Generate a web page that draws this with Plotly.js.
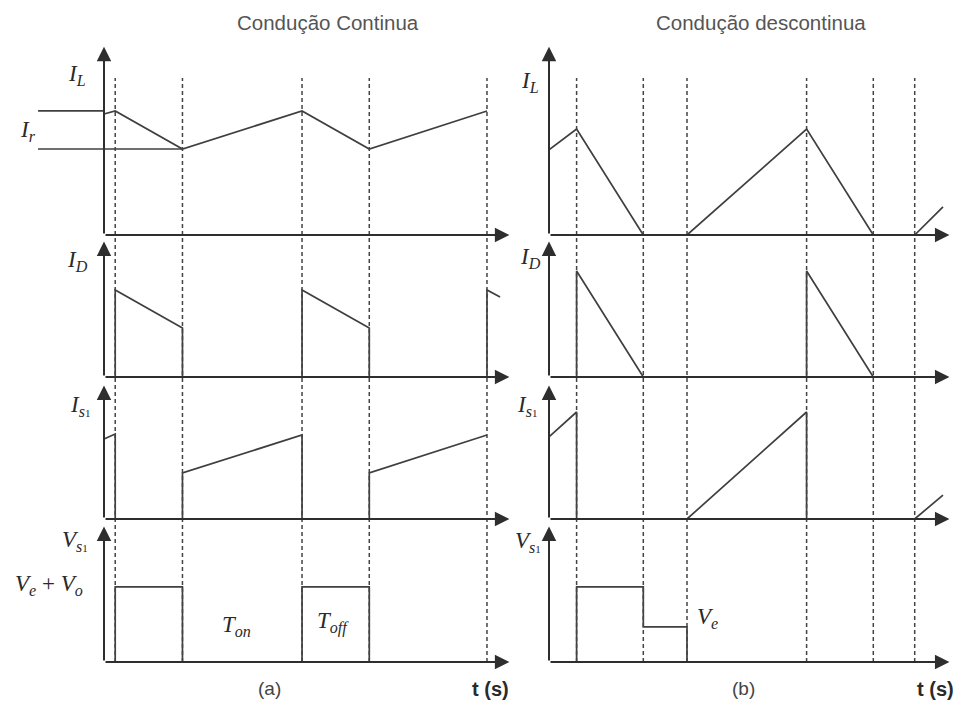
<!DOCTYPE html>
<html>
<head>
<meta charset="utf-8">
<script src="https://cdn.plot.ly/plotly-3.0.1.min.js"></script>
<style>html,body{margin:0;padding:0;background:#fff;}#chart{width:953px;height:702px;}</style>
</head>
<body>
<div id="chart"></div>
<script>
// ---------- Data (arbitrary units, time axis t, amplitude 0..10 per row) ----------
// Panel (a): continuous conduction
const dashTimesA = [0.6, 4.2, 10.6, 14.2, 20.5];
const ilTimeA = [0, 0.6, 4.2, 10.6, 14.2, 20.5];
const ilA     = [6.3, 6.46, 4.48, 6.46, 4.48, 6.46];
const irTime   = [-3.53, 0, null, -3.53, 4.2];
const irLevels = [6.46, 6.46, null, 4.48, 4.48];
const idTimeA = [0.6, 0.6, 4.2, 4.2, null, 10.6, 10.6, 14.2, 14.2, null, 20.5, 20.5, 21.2];
const idA     = [0, 6.26, 3.53, 0, null, 0, 6.26, 3.53, 0, null, 0, 6.26, 5.75];
const isTimeA = [0, 0.6, 0.6, null, 4.2, 4.2, 10.6, 10.6, null, 14.2, 14.2, 20.5];
const isA     = [5.84, 6.2, 0, null, 0, 3.36, 6.13, 0, null, 0, 3.36, 6.13];
const vsTimeA = [0.6, 0.6, 4.2, 4.2, null, 10.6, 10.6, 14.2, 14.2];
const vsA     = [0, 5.4, 5.4, 0, null, 0, 5.4, 5.4, 0];

// Panel (b): discontinuous conduction
const dashTimesB = [1.2, 4.1, 6.0, 11.2, 14.1, 15.9];
const ilTimeB = [0, 1.2, 4.1, 6.0, 11.2, 14.1, 15.9, 17.13];
const ilB     = [4.43, 5.52, 0, 0, 5.52, 0, 0, 1.46];
const idTimeB = [1.2, 1.2, 4.1, null, 11.2, 11.2, 14.1];
const idB     = [0, 7.63, 0, null, 0, 7.63, 0];
const isTimeB = [0, 1.2, 1.2, null, 6.0, 11.2, 11.2, null, 15.9, 17.13];
const isB     = [5.99, 7.81, 0, null, 0, 7.81, 0, null, 0, 1.75];
const vsTimeB = [1.2, 1.2, 4.1, 4.1, 6.0, 6.0];
const vsB     = [0, 5.4, 5.4, 2.52, 2.52, 0];

// ---------- Layout helpers ----------
const W = 953, H = 702;
const px = v => v / W;
const py = v => 1 - v / H;
const WAVE = '#3f3f3f';

function wave(x, y, xa, ya) {
  return {type: 'scatter', mode: 'lines', x: x, y: y, xaxis: xa, yaxis: ya,
          connectgaps: false, cliponaxis: false, hoverinfo: 'skip',
          line: {color: WAVE, width: 1.7}};
}

const data = [
  wave(ilTimeA, ilA, 'x', 'y'),
  wave(irTime, irLevels, 'x', 'y'),
  wave(idTimeA, idA, 'x', 'y2'),
  wave(isTimeA, isA, 'x', 'y3'),
  wave(vsTimeA, vsA, 'x', 'y4'),
  wave(ilTimeB, ilB, 'x2', 'y5'),
  wave(idTimeB, idB, 'x2', 'y6'),
  wave(isTimeB, isB, 'x2', 'y7'),
  wave(vsTimeB, vsB, 'x2', 'y8')
];

// row domains (baseline px, top px)
const rows = [[235, 43], [377, 238], [519, 382], [662, 523]];
const hidden = {visible: false, fixedrange: true};

const layout = {
  width: W, height: H,
  margin: {l: 0, r: 0, t: 0, b: 0},
  paper_bgcolor: '#fff', plot_bgcolor: 'rgba(0,0,0,0)',
  showlegend: false,
  xaxis:  Object.assign({domain: [px(38), px(515)], range: [-3.533, 22]}, hidden),
  xaxis2: Object.assign({domain: [px(549), 1], range: [0, 17.565]}, hidden),
  shapes: [],
  annotations: []
};
rows.forEach((r, i) => {
  const dom = [py(r[0]), py(r[1])];
  layout['yaxis' + (i === 0 ? '' : (i + 1))] = Object.assign({domain: dom, range: [0, 10], anchor: 'x'}, hidden);
  layout['yaxis' + (i + 5)] = Object.assign({domain: dom, range: [0, 10], anchor: 'x2'}, hidden);
});

// dashed switching instants
function dashed(times, xref) {
  times.forEach(t => layout.shapes.push({
    type: 'line', xref: xref, yref: 'paper', x0: t, x1: t, y0: py(662), y1: py(78),
    line: {color: '#444', width: 1.5, dash: '4px,3px'}
  }));
}
dashed(dashTimesA, 'x');
dashed(dashTimesB, 'x2');

// axes with arrowheads
function axisArrow(xref, yref, x, y) {
  layout.annotations.push({
    xref: xref, yref: yref, x: x, y: y, ax: 0, ay: 0, axref: xref, ayref: yref,
    text: '', showarrow: true, arrowhead: 2, arrowsize: 1.45, arrowwidth: 2,
    arrowcolor: '#2e2e2e', standoff: 0
  });
}
const yTopTip = [9.8, 9.74, 9.74, 9.74];
for (let i = 0; i < 4; i++) {
  const ya = 'y' + (i === 0 ? '' : (i + 1));
  const yb = 'y' + (i + 5);
  axisArrow('x', ya, 21.7, 0);
  axisArrow('x', ya, 0, yTopTip[i]);
  axisArrow('x2', yb, 17.41, 0);
  axisArrow('x2', yb, 0, yTopTip[i]);
}

// text labels
const SERIF = 'Liberation Serif, DejaVu Serif, serif';
const SANS = 'Liberation Sans, Arial, sans-serif';
function label(text, x, y, size, family, color) {
  layout.annotations.push({
    xref: 'paper', yref: 'paper', x: px(x), y: py(y), xanchor: 'center', yanchor: 'middle',
    text: text, showarrow: false,
    font: {family: family || SERIF, size: size || 23, color: color || '#2a2a2a'}
  });
}
label('Condução Continua', 328, 22, 20.5, SANS, '#555');
label('Condução descontinua', 761, 22, 20.5, SANS, '#555');

const IL = '<i>I</i><sub><i>L</i></sub>';
const ID = '<i>I</i><sub><i>D</i></sub>';
const IS1 = '<i>I</i><sub><i>s</i><span style="font-size:11px">1</span></sub>';
const VS1 = '<i>V</i><sub><i>s</i><span style="font-size:11px">1</span></sub>';
label(IL, 77, 75);
label('<i>I</i><sub><i>r</i></sub>', 28, 131);
label(ID, 77, 261);
label(IS1, 80, 406);
label(VS1, 75, 541);
label('<i>V</i><sub><i>e</i></sub> + <i>V</i><sub><i>o</i></sub>', 49, 585);
label('<i>T</i><sub><i>on</i></sub>', 236, 626);
label('<i>T</i><sub><i>off</i></sub>', 333, 622);
label('(a)', 269, 688, 19, SANS, '#444');
label('<b>t (s)</b>', 490, 689, 20, SANS, '#2a2a2a');

label(IL, 530, 82);
label(ID, 530, 258);
label(IS1, 527, 406);
label(VS1, 528, 542);
label('<i>V</i><sub><i>e</i></sub>', 707, 618);
label('(b)', 743, 688, 19, SANS, '#444');
label('<b>t (s)</b>', 935, 689, 20, SANS, '#2a2a2a');

Plotly.newPlot('chart', data, layout, {displayModeBar: false, staticPlot: true});
</script>
</body>
</html>
